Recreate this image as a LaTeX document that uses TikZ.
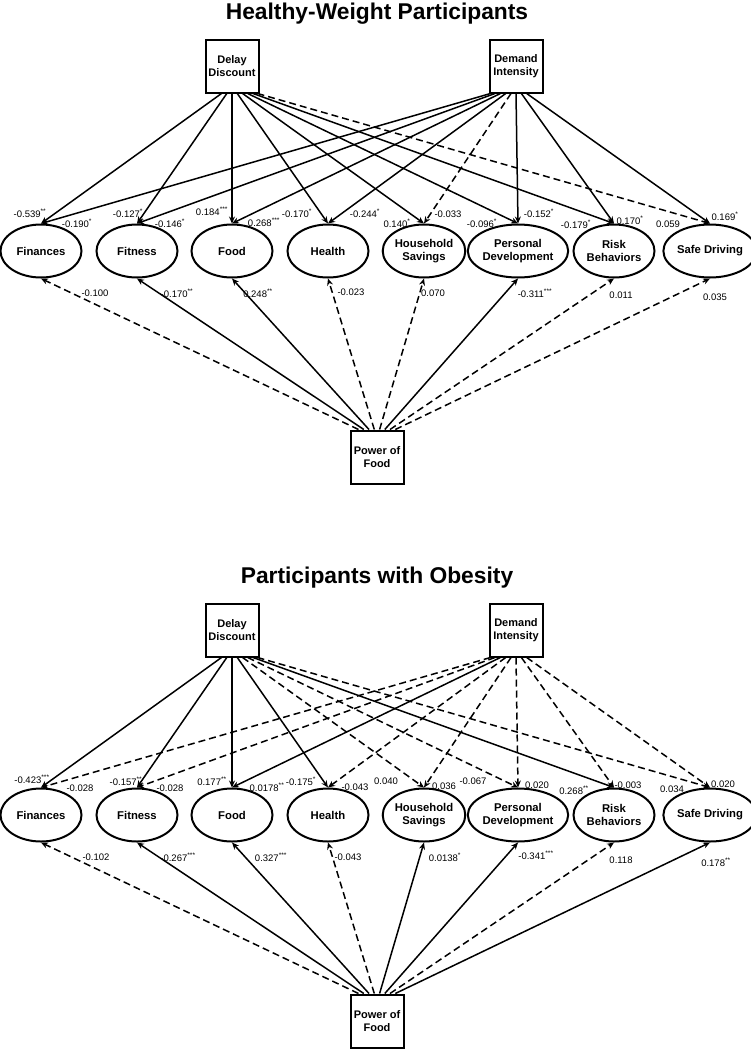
\documentclass[tikz,border=0pt]{standalone}
\usepackage{fontspec}
\setmainfont{Liberation Sans}
\usetikzlibrary{shapes.geometric,arrows.meta}
\newcommand\st[1]{\textsuperscript{#1}}
\tikzset{
	obs/.style={draw, line width=2pt, minimum width=53pt, minimum height=53pt, inner sep=0pt, align=center, font=\bfseries\fontsize{11}{13}\selectfont},
	lat/.style={ellipse, draw, line width=2pt, minimum width=81pt, minimum height=53pt, inner sep=0pt, align=center, font=\bfseries\fontsize{11.3}{13}\selectfont},
	path/.style={-{Stealth[length=7pt,width=6pt]}, line width=1.5pt},
	nspath/.style={path, dash pattern=on 7pt off 4pt},
	coef/.style={inner sep=0pt, font=\fontsize{9.5}{10}\selectfont},
	ttl/.style={anchor=base, font=\bfseries\fontsize{22.8}{24}\selectfont}
}
\begin{document}
\begin{tikzpicture}[x=1pt,y=-1pt]
	\useasboundingbox (0,0) rectangle (751,1050);
	
	% healthy-weight
	\node[ttl] (htitle) at (377,19) {Healthy-Weight Participants};
	\node[obs] (hdd) at (232,66) {Delay\\Discount};
	\node[obs] (hdi) at (516,66) {Demand\\Intensity};
	\node[obs] (hpf) at (377,457) {Power of\\Food};
	
	\node[lat] (hfin) at (41,251) {Finances};
	\node[lat] (hfit) at (137,251) {Fitness};
	\node[lat] (hfood) at (232,251) {Food};
	\node[lat] (hhea) at (328,251) {Health};
	\node[lat] (hhs) at (424,251) {Household\\Savings};
	\node[lat] (hpd) at (518,251) {Personal\\Development};
	\node[lat] (hrb) at (614,251) {Risk\\Behaviors};
	\node[lat] (hsd) at (710,251) {Safe Driving};
	
	\draw[path] ([xshift=-10.5pt]hdd.south) -- (hfin.north);
	\draw[path] ([xshift=-5.2pt]hdd.south) -- (hfit.north);
	\draw[path] (hdd.south) -- (hfood.north);
	\draw[path] ([xshift=5.3pt]hdd.south) -- (hhea.north);
	\draw[path] ([xshift=10.6pt]hdd.south) -- (hhs.north);
	\draw[path] ([xshift=15.7pt]hdd.south) -- (hpd.north);
	\draw[path] ([xshift=21pt]hdd.south) -- (hrb.north);
	\draw[nspath] ([xshift=25.5pt]hdd.south) -- (hsd.north);
	
	\draw[path] ([xshift=-25.5pt]hdi.south) -- (hfin.north);
	\draw[path] ([xshift=-21pt]hdi.south) -- (hfit.north);
	\draw[path] ([xshift=-15.6pt]hdi.south) -- (hfood.north);
	\draw[path] ([xshift=-10.3pt]hdi.south) -- (hhea.north);
	\draw[nspath] ([xshift=-5pt]hdi.south) -- (hhs.north);
	\draw[path] (hdi.south) -- (hpd.north);
	\draw[path] ([xshift=5.4pt]hdi.south) -- (hrb.north);
	\draw[path] ([xshift=10.7pt]hdi.south) -- (hsd.north);
	
	\draw[nspath] ([xshift=-18.5pt]hpf.north) -- (hfin.south);
	\draw[path] ([xshift=-13.2pt]hpf.north) -- (hfit.south);
	\draw[path] ([xshift=-8pt]hpf.north) -- (hfood.south);
	\draw[nspath] ([xshift=-2.7pt]hpf.north) -- (hhea.south);
	\draw[nspath] ([xshift=2.6pt]hpf.north) -- (hhs.south);
	\draw[path] ([xshift=7.8pt]hpf.north) -- (hpd.south);
	\draw[nspath] ([xshift=13pt]hpf.north) -- (hrb.south);
	\draw[nspath] ([xshift=18.3pt]hpf.north) -- (hsd.south);
	
	\node[coef] (hc1) at (30,213) {-0.539\st{**}};
	\node[coef] (hc2) at (128,213) {-0.127\st{*}};
	\node[coef] (hc3) at (212,211) {0.184\st{***}};
	\node[coef] (hc4) at (297,213) {-0.170\st{*}};
	\node[coef] (hc5) at (397,223) {0.140\st{*}};
	\node[coef] (hc6) at (482,223) {-0.096\st{*}};
	\node[coef] (hc7) at (576,224) {-0.179\st{*}};
	\node[coef] (hc8) at (668,224) {0.059};
	
	\node[coef] (hd1) at (77,223) {-0.190\st{*}};
	\node[coef] (hd2) at (170,223) {-0.146\st{*}};
	\node[coef] (hd3) at (264,222) {0.268\st{***}};
	\node[coef] (hd4) at (365,213) {-0.244\st{*}};
	\node[coef] (hd5) at (448,214) {-0.033};
	\node[coef] (hd6) at (539,213) {-0.152\st{*}};
	\node[coef] (hd7) at (630,220) {0.170\st{*}};
	\node[coef] (hd8) at (725,216) {0.169\st{*}};
	
	\node[coef] (hp1) at (95,293) {-0.100};
	\node[coef] (hp2) at (177,293) {-0.170\st{**}};
	\node[coef] (hp3) at (258,293) {0.248\st{**}};
	\node[coef] (hp4) at (351,292) {-0.023};
	\node[coef] (hp5) at (433,293) {0.070};
	\node[coef] (hp6) at (535,293) {-0.311\st{***}};
	\node[coef] (hp7) at (621,295) {0.011};
	\node[coef] (hp8) at (715,297) {0.035};
	
	% obesity
	\node[ttl] (otitle) at (377,583) {Participants with Obesity};
	\node[obs] (odd) at (232,630) {Delay\\Discount};
	\node[obs] (odi) at (516,630) {Demand\\Intensity};
	\node[obs] (opf) at (377,1021) {Power of\\Food};
	
	\node[lat] (ofin) at (41,815) {Finances};
	\node[lat] (ofit) at (137,815) {Fitness};
	\node[lat] (ofood) at (232,815) {Food};
	\node[lat] (ohea) at (328,815) {Health};
	\node[lat] (ohs) at (424,815) {Household\\Savings};
	\node[lat] (opd) at (518,815) {Personal\\Development};
	\node[lat] (orb) at (614,815) {Risk\\Behaviors};
	\node[lat] (osd) at (710,815) {Safe Driving};
	
	\draw[path] ([xshift=-10.5pt]odd.south) -- (ofin.north);
	\draw[path] ([xshift=-5.2pt]odd.south) -- (ofit.north);
	\draw[path] (odd.south) -- (ofood.north);
	\draw[path] ([xshift=5.3pt]odd.south) -- (ohea.north);
	\draw[nspath] ([xshift=10.6pt]odd.south) -- (ohs.north);
	\draw[nspath] ([xshift=15.7pt]odd.south) -- (opd.north);
	\draw[path] ([xshift=21pt]odd.south) -- (orb.north);
	\draw[nspath] ([xshift=25.5pt]odd.south) -- (osd.north);
	
	\draw[nspath] ([xshift=-25.5pt]odi.south) -- (ofin.north);
	\draw[nspath] ([xshift=-21pt]odi.south) -- (ofit.north);
	\draw[path] ([xshift=-15.6pt]odi.south) -- (ofood.north);
	\draw[nspath] ([xshift=-10.3pt]odi.south) -- (ohea.north);
	\draw[nspath] ([xshift=-5pt]odi.south) -- (ohs.north);
	\draw[nspath] (odi.south) -- (opd.north);
	\draw[nspath] ([xshift=5.4pt]odi.south) -- (orb.north);
	\draw[nspath] ([xshift=10.7pt]odi.south) -- (osd.north);
	
	\draw[nspath] ([xshift=-18.5pt]opf.north) -- (ofin.south);
	\draw[path] ([xshift=-13.2pt]opf.north) -- (ofit.south);
	\draw[path] ([xshift=-8pt]opf.north) -- (ofood.south);
	\draw[nspath] ([xshift=-2.7pt]opf.north) -- (ohea.south);
	\draw[path] ([xshift=2.6pt]opf.north) -- (ohs.south);
	\draw[path] ([xshift=7.8pt]opf.north) -- (opd.south);
	\draw[nspath] ([xshift=13pt]opf.north) -- (orb.south);
	\draw[path] ([xshift=18.3pt]opf.north) -- (osd.south);
	
	\node[coef] (oc1) at (32,779) {-0.423\st{***}};
	\node[coef] (oc2) at (126,781) {-0.157\st{**}};
	\node[coef] (oc3) at (212,781) {0.177\st{**}};
	\node[coef] (oc4) at (301,781) {-0.175\st{*}};
	\node[coef] (oc5) at (386,781) {0.040};
	\node[coef] (oc6) at (473,781) {-0.067};
	\node[coef] (oc7) at (574,790) {0.268\st{**}};
	\node[coef] (oc8) at (672,789) {0.034};
	
	\node[coef] (od1) at (80,788) {-0.028};
	\node[coef] (od2) at (170,788) {-0.028};
	\node[coef] (od3) at (267,787) {0.0178\st{**}};
	\node[coef] (od4) at (355,787) {-0.043};
	\node[coef] (od5) at (444,786) {0.036};
	\node[coef] (od6) at (537,785) {0.020};
	\node[coef] (od7) at (628,785) {-0.003};
	\node[coef] (od8) at (723,784) {0.020};
	
	\node[coef] (op1) at (96,857) {-0.102};
	\node[coef] (op2) at (178,857) {-0.267\st{***}};
	\node[coef] (op3) at (271,857) {0.327\st{***}};
	\node[coef] (op4) at (348,857) {-0.043};
	\node[coef] (op5) at (445,857) {0.0138\st{*}};
	\node[coef] (op6) at (536,855) {-0.341\st{***}};
	\node[coef] (op7) at (621,860) {0.118};
	\node[coef] (op8) at (716,862) {0.178\st{**}};
\end{tikzpicture}
\end{document}
